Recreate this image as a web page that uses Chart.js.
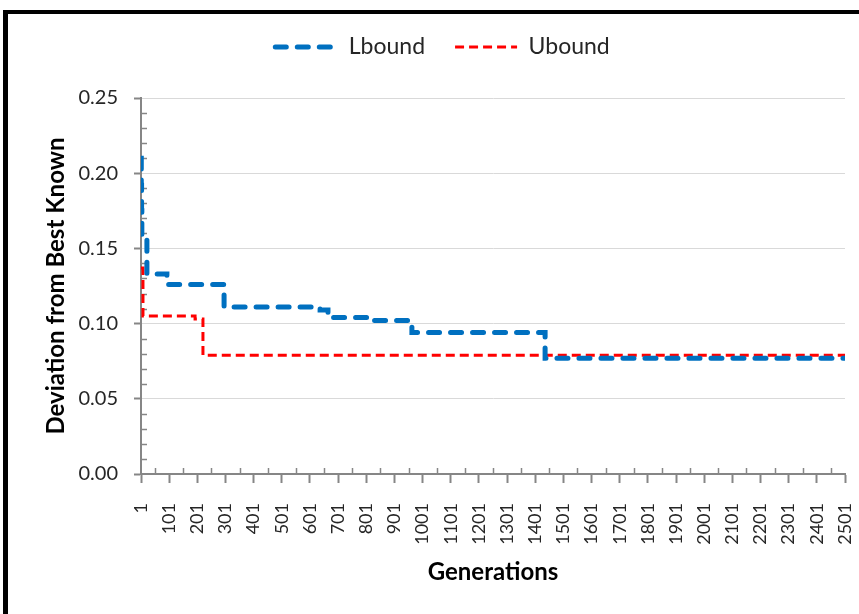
<!DOCTYPE html>
<html>
<head>
<meta charset="utf-8">
<script src="https://cdn.jsdelivr.net/npm/chart.js@4"></script>
<style>
  html, body { margin: 0; padding: 0; background: #fff; overflow: hidden; }
  #frame {
    position: absolute; left: 3px; top: 10px; width: 900px; height: 700px;
    border-left: 5px solid #000; border-top: 4px solid #000;
  }
  #chart { position: absolute; left: 0; top: 0; }
</style>
</head>
<body>
<div id="frame"></div>
<canvas id="chart" width="859" height="614"></canvas>
<script>
/* DATA */
const lboundGen = [1, 2, 3, 4, 22, 93, 296, 637, 665, 803, 963, 1436, 2501];
const lboundVal = [0.210, 0.192, 0.175, 0.156, 0.133, 0.126, 0.111, 0.109, 0.104, 0.102, 0.094, 0.077, 0.077];

const uboundGen = [1, 8, 193, 221, 2501];
const uboundVal = [0.137, 0.105, 0.103, 0.079, 0.079];

const genTicks = [1, 101, 201, 301, 401, 501, 601, 701, 801, 901, 1001, 1101, 1201,
  1301, 1401, 1501, 1601, 1701, 1801, 1901, 2001, 2101, 2201, 2301, 2401, 2501];

const AXIS = "#868686";
const TEXT = "#262626";

function toPoints(gens, vals) {
  return gens.map((g, i) => ({ x: g, y: vals[i] }));
}

/* legend samples keep the dashes of the lines */
function dashedLabels(chart) {
  return Chart.defaults.plugins.legend.labels.generateLabels(chart).map(item => {
    const ds = chart.data.datasets[item.datasetIndex];
    item.lineDash = ds.borderDash;
    item.lineWidth = ds.borderWidth;
    item.lineCap = ds.borderCapStyle;
    item.strokeStyle = ds.borderColor;
    return item;
  });
}

/* small ticks between the labelled ones */
const minorTicks = {
  id: "minorTicks",
  beforeDatasetsDraw(chart) {
    const { ctx, scales: { x, y } } = chart;
    ctx.save();
    ctx.strokeStyle = AXIS;
    ctx.lineWidth = 1.5;
    ctx.beginPath();
    for (let i = 1; i < 25; i++) {
      if (i % 5 === 0) continue;
      const py = Math.round(y.getPixelForValue(i / 100)) + 0.5;
      ctx.moveTo(x.left, py);
      ctx.lineTo(x.left + 6, py);
    }
    for (let i = 0; i < genTicks.length - 1; i++) {
      const px = Math.round(x.getPixelForValue(genTicks[i] + 50)) + 0.5;
      ctx.moveTo(px, y.bottom);
      ctx.lineTo(px, y.bottom - 6);
    }
    ctx.stroke();
    ctx.restore();
  }
};

new Chart(document.getElementById("chart"), {
  type: "line",
  data: {
    datasets: [{
      label: "Lbound",
      data: toPoints(lboundGen, lboundVal),
      stepped: true,
      borderColor: "#0070C0",
      backgroundColor: "#0070C0",
      borderWidth: 5,
      borderDash: [11, 11],
      borderCapStyle: "round",
      pointRadius: 0,
      pointStyle: "line",
      fill: false
    }, {
      label: "Ubound",
      data: toPoints(uboundGen, uboundVal),
      stepped: true,
      borderColor: "#FF0000",
      backgroundColor: "#FF0000",
      borderWidth: 3,
      borderDash: [9, 5],
      borderCapStyle: "butt",
      pointRadius: 0,
      pointStyle: "line",
      fill: false
    }]
  },
  options: {
    responsive: false,
    animation: false,
    layout: { padding: { top: 5.5, left: 40, right: 14, bottom: 0 } },
    plugins: {
      tooltip: { enabled: false },
      legend: {
        position: "top",
        labels: {
          usePointStyle: true,
          pointStyleWidth: 62,
          padding: 30,
          color: TEXT,
          font: { family: "Lato", size: 23 },
          generateLabels: dashedLabels
        }
      },
      // empty title used as a gap between legend and plot
      title: {
        display: true,
        text: "",
        weight: 500,
        font: { size: 10 },
        padding: { top: 0, bottom: 17.5 }
      }
    },
    scales: {
      x: {
        type: "linear",
        min: 1,
        max: 2501,
        afterBuildTicks: s => { s.ticks = genTicks.map(v => ({ value: v })); },
        afterFit: s => { s.height = 140; s.paddingLeft = 0; s.paddingRight = 0; },
        ticks: {
          autoSkip: false,
          minRotation: 90,
          maxRotation: 90,
          padding: 20,
          color: TEXT,
          font: { family: "Lato", size: 18 },
          callback: v => String(v)
        },
        grid: {
          drawOnChartArea: false,
          drawTicks: true,
          tickLength: 9,
          tickColor: AXIS,
          tickWidth: 2
        },
        border: { color: AXIS, width: 2 },
        title: {
          display: true,
          text: "Generations",
          color: "#000",
          font: { family: "Lato", size: 24, weight: "bold" },
          padding: { top: 0, bottom: 27 }
        }
      },
      y: {
        min: 0,
        max: 0.25,
        afterFit: s => { s.width = 101; s.paddingTop = 98; },
        ticks: {
          stepSize: 0.05,
          padding: 16,
          color: TEXT,
          font: { family: "Lato", size: 20 },
          callback: v => v.toFixed(2)
        },
        grid: {
          color: "#d9d9d9",
          lineWidth: 1,
          tickLength: 7,
          tickColor: AXIS,
          tickWidth: 2
        },
        border: { color: AXIS, width: 2 },
        title: {
          display: true,
          text: "Deviation from Best Known",
          color: "#000",
          font: { family: "Lato", size: 24, weight: "bold" },
          padding: { top: 2, bottom: 0 }
        }
      }
    }
  },
  plugins: [minorTicks]
});
</script>
</body>
</html>
